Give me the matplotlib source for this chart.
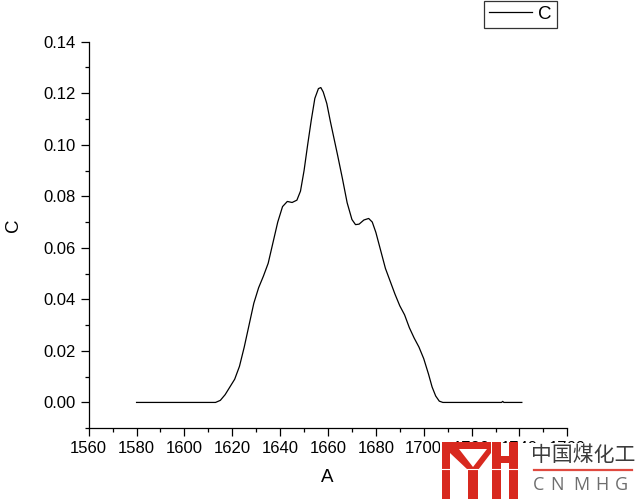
import matplotlib
matplotlib.use("Agg")
import matplotlib.pyplot as plt
from matplotlib.patches import Polygon, Rectangle
from matplotlib.lines import Line2D
from matplotlib.ticker import MultipleLocator

plt.rcParams['font.family'] = ['Liberation Sans', 'DejaVu Sans']

A = [1580, 1590, 1600, 1610, 1613, 1615, 1617, 1619, 1621, 1623, 1625, 1627, 1629,
     1631, 1633, 1635, 1637, 1639, 1641, 1643, 1645, 1647, 1648.5, 1650, 1651.5,
     1653, 1654.5, 1656, 1657, 1658, 1659.5, 1661, 1662.5, 1664, 1666, 1668, 1670,
     1671.5, 1673, 1675, 1677, 1678.5, 1680, 1682, 1684, 1686, 1688, 1690, 1692,
     1694, 1696, 1698, 1700, 1702, 1703.5, 1705, 1706.5, 1708, 1720, 1732.5, 1733,
     1733.5, 1741]
C = [0, 0, 0, 0, 0.0, 0.0008, 0.0030, 0.0060, 0.0090, 0.0140, 0.0215, 0.0300, 0.0385,
     0.0445, 0.0490, 0.0540, 0.0620, 0.0700, 0.0760, 0.0780, 0.0776, 0.0785, 0.0820,
     0.0900, 0.1000, 0.1095, 0.1180, 0.1218, 0.1222, 0.1205, 0.1160, 0.1090, 0.1025,
     0.0960, 0.0870, 0.0775, 0.0710, 0.0690, 0.0692, 0.0708, 0.0714, 0.0700, 0.0660,
     0.0590, 0.0520, 0.0470, 0.0420, 0.0375, 0.0340, 0.0290, 0.0250, 0.0215, 0.0170,
     0.0110, 0.0060, 0.0025, 0.0005, 0, 0, 0, 0.0004, 0, 0]

W, H = 638, 504
L, R, T, B = 88.7, 567.3, 41.7, 428.2
fig = plt.figure(figsize=(W / 100, H / 100), dpi=100)
ax = fig.add_axes([L / W, (H - B) / H, (R - L) / W, (B - T) / H])

ax.plot(A, C, color='black', lw=0.9, label='C')
ax.set_xlim(1560, 1760)
ax.set_ylim(-0.01, 0.14)
ax.xaxis.set_major_locator(MultipleLocator(20))
ax.xaxis.set_minor_locator(MultipleLocator(10))
ax.yaxis.set_minor_locator(MultipleLocator(0.01))
ax.set_yticks([0.0, 0.02, 0.04, 0.06, 0.08, 0.10, 0.12, 0.14])
ax.set_yticklabels(['0.00', '0.02', '0.04', '0.06', '0.08', '0.10', '0.12', '0.14'])
for s in ['top', 'right']:
    ax.spines[s].set_visible(False)
for s in ['left', 'bottom']:
    ax.spines[s].set_linewidth(0.9)
ax.tick_params(which='major', direction='out', length=5.5, width=0.9, labelsize=12, pad=4)
ax.tick_params(which='minor', direction='out', length=3, width=0.9)
ax.set_xlabel('A', fontsize=13.5, va='center')
ax.set_ylabel('C', fontsize=13.5, va='center')
ax.xaxis.set_label_coords((327 - L) / (R - L), -(478 - B) / (B - T))
ax.yaxis.set_label_coords((14 - L) / (R - L), (B - 225) / (B - T))

leg = ax.legend(loc='upper left', bbox_to_anchor=(484 / W, 1 - 0.5 / H),
                bbox_transform=fig.transFigure, frameon=True, fancybox=False,
                edgecolor='black', fontsize=13.5, handlelength=2.3, handletextpad=0.3,
                borderpad=0.28, borderaxespad=0)
leg.get_frame().set_linewidth(0.9)

# watermark
def P(x, y):
    return (x / W, 1 - y / H)

red = '#d8291f'
fig.patches.append(Rectangle(P(440, 504), 198 / W, 61 / H, transform=fig.transFigure,
                             facecolor='white', edgecolor='none', zorder=10))
shapes = [
    [(442, 442), (491, 442), (491, 449), (442, 449)],
    [(442, 442), (450, 442), (450, 499), (442, 499)],
    [(450, 449), (459, 449), (473, 467), (487, 449), (491, 449), (491, 453),
     (478, 470), (478, 499), (468, 499), (468, 470), (450, 453)],
    [(492, 442), (501, 442), (501, 499), (492, 499)],
    [(509, 442), (518, 442), (518, 499), (509, 499)],
    [(501, 456), (509, 456), (509, 463), (501, 463)],
]
for sh in shapes:
    fig.patches.append(Polygon([P(x, y) for x, y in sh], closed=True,
                               transform=fig.transFigure, facecolor=red,
                               edgecolor='none', zorder=11))
fig.lines.append(Line2D([P(440, 469)[0], P(520, 469)[0]], [P(440, 469)[1]] * 2,
                        transform=fig.transFigure, color='white', lw=0.8, zorder=12))
fig.text(P(583, 455)[0], P(583, 455)[1], '中国煤化工', family=['Noto Sans CJK SC'],
         fontsize=15, color='#3c3c3c', ha='center', va='center', zorder=13)
fig.lines.append(Line2D([P(534, 470)[0], P(632, 470)[0]], [P(534, 470)[1]] * 2,
                        transform=fig.transFigure, color='#e04a40', lw=1.6, zorder=13))
for ch, cx in zip('CNMHG', [539, 557, 581, 602, 621]):
    fig.text(P(cx, 485)[0], P(cx, 485)[1], ch, family=['Open Sans', 'DejaVu Sans'],
             fontsize=13, color='#6e6e6e', ha='center', va='center', zorder=13)

fig.savefig('out.png', dpi=100)
